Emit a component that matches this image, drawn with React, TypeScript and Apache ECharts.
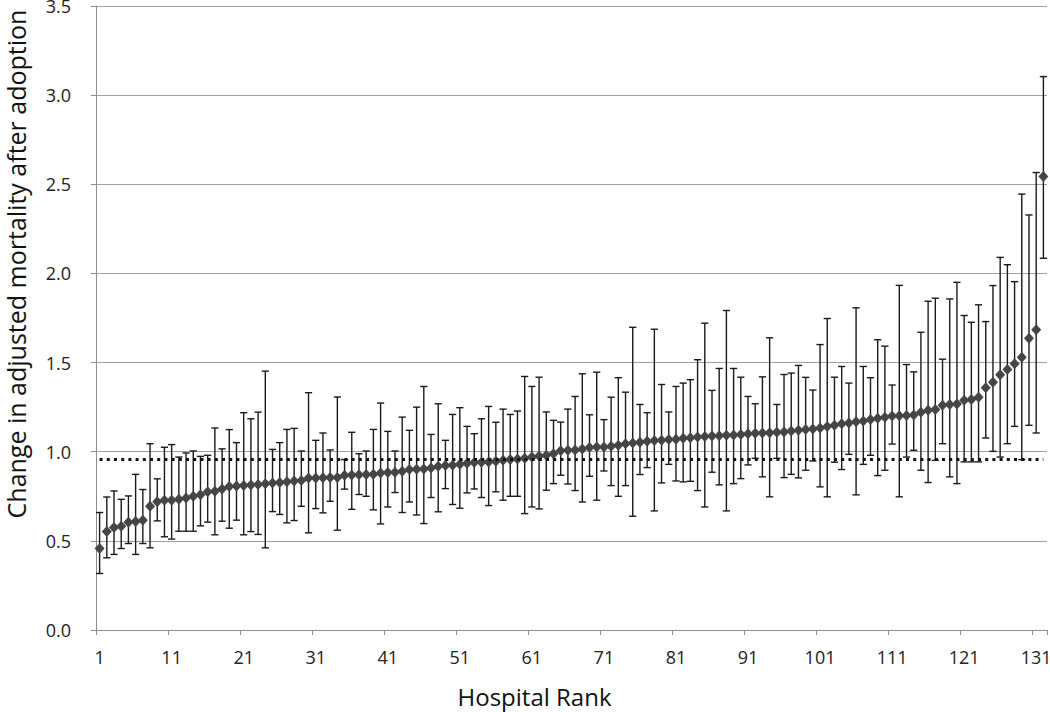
import React, { useEffect, useRef } from "react";
import * as echarts from "echarts";

const means: number[] = [
  0.457, 0.553, 0.575, 0.582, 0.605, 0.609, 0.616, 0.694, 0.720, 0.728,
  0.728, 0.733, 0.741, 0.750, 0.758, 0.776, 0.778, 0.791, 0.805, 0.808,
  0.810, 0.814, 0.816, 0.821, 0.825, 0.827, 0.831, 0.836, 0.838, 0.853,
  0.853, 0.854, 0.855, 0.856, 0.868, 0.870, 0.871, 0.872, 0.874, 0.881,
  0.883, 0.885, 0.890, 0.900, 0.901, 0.903, 0.909, 0.918, 0.922, 0.924,
  0.929, 0.935, 0.939, 0.941, 0.943, 0.946, 0.952, 0.956, 0.959, 0.963,
  0.970, 0.976, 0.980, 0.989, 1.005, 1.008, 1.010, 1.015, 1.023, 1.026,
  1.027, 1.030, 1.036, 1.045, 1.049, 1.053, 1.058, 1.063, 1.065, 1.068,
  1.070, 1.075, 1.079, 1.082, 1.086, 1.088, 1.090, 1.092, 1.094, 1.097,
  1.101, 1.103, 1.105, 1.107, 1.109, 1.110, 1.116, 1.120, 1.124, 1.127,
  1.133, 1.142, 1.148, 1.157, 1.161, 1.168, 1.172, 1.180, 1.187, 1.194,
  1.200, 1.202, 1.203, 1.206, 1.222, 1.232, 1.237, 1.260, 1.265, 1.268,
  1.288, 1.293, 1.306, 1.359, 1.390, 1.432, 1.461, 1.493, 1.530, 1.637,
  1.684, 2.544,
];

const upper: number[] = [
  0.659, 0.746, 0.780, 0.733, 0.752, 0.873, 0.788, 1.045, 0.848, 1.025,
  1.040, 0.970, 0.993, 1.004, 0.974, 0.980, 1.133, 1.016, 1.124, 1.051,
  1.219, 1.185, 1.222, 1.452, 1.013, 1.051, 1.125, 1.131, 1.004, 1.331,
  1.064, 1.105, 1.010, 1.307, 0.956, 1.109, 0.989, 1.004, 1.125, 1.273,
  1.114, 1.004, 1.194, 1.120, 1.250, 1.366, 1.097, 1.269, 1.064, 1.209,
  1.247, 1.142, 1.101, 1.185, 1.254, 1.165, 1.239, 1.209, 1.228, 1.422,
  1.366, 1.418, 1.223, 1.176, 1.166, 1.239, 1.310, 1.437, 1.207, 1.446,
  1.180, 1.306, 1.415, 1.334, 1.698, 1.265, 1.219, 1.687, 1.377, 1.223,
  1.366, 1.385, 1.404, 1.516, 1.721, 1.344, 1.467, 1.792, 1.467, 1.418,
  1.310, 1.269, 1.420, 1.639, 1.265, 1.433, 1.441, 1.484, 1.417, 1.346,
  1.601, 1.747, 1.418, 1.478, 1.385, 1.807, 1.478, 1.415, 1.628, 1.592,
  1.374, 1.933, 1.489, 1.448, 1.670, 1.844, 1.861, 1.519, 1.857, 1.950,
  1.764, 1.726, 1.824, 1.730, 1.932, 2.090, 2.049, 1.954, 2.445, 2.328,
  2.566, 3.104,
];

const lower: number[] = [
  0.317, 0.405, 0.424, 0.457, 0.485, 0.424, 0.485, 0.461, 0.612, 0.523,
  0.510, 0.554, 0.554, 0.554, 0.584, 0.605, 0.534, 0.610, 0.571, 0.616,
  0.534, 0.552, 0.536, 0.461, 0.664, 0.648, 0.601, 0.614, 0.694, 0.545,
  0.681, 0.657, 0.722, 0.560, 0.790, 0.677, 0.760, 0.750, 0.674, 0.595,
  0.690, 0.771, 0.659, 0.718, 0.645, 0.597, 0.743, 0.663, 0.793, 0.704,
  0.683, 0.769, 0.791, 0.743, 0.698, 0.775, 0.728, 0.750, 0.750, 0.653,
  0.690, 0.679, 0.784, 0.821, 0.868, 0.819, 0.782, 0.718, 0.862, 0.728,
  0.892, 0.810, 0.750, 0.810, 0.638, 0.872, 0.911, 0.668, 0.825, 0.929,
  0.836, 0.831, 0.834, 0.782, 0.690, 0.885, 0.814, 0.668, 0.821, 0.849,
  0.926, 0.963, 0.859, 0.747, 0.963, 0.855, 0.873, 0.853, 0.896, 0.948,
  0.803, 0.747, 0.941, 0.900, 0.985, 0.758, 0.929, 0.980, 0.866, 0.896,
  1.043, 0.747, 0.970, 1.008, 0.896, 0.827, 0.952, 1.045, 0.859, 0.821,
  0.943, 0.943, 0.943, 1.077, 1.002, 0.970, 1.045, 1.142, 0.956, 1.148,
  1.105, 2.085,
];

const referenceValue = 0.96;

const categories: string[] = means.map((_, i) => String(i + 1));

const FONT = "'Open Sans', 'Noto Sans', sans-serif";

export default function App() {
  const ref = useRef<HTMLDivElement>(null);

  useEffect(() => {
    if (!ref.current) return;
    const chart = echarts.init(ref.current, null, { renderer: "svg" });
    const errData = means.map((_, i) => [i, lower[i], upper[i]]);

    chart.setOption({
      animation: false,
      backgroundColor: "#ffffff",
      grid: {
        left: 96,
        right: 3,
        top: 6,
        bottom: 82,
        containLabel: false,
        outerBoundsMode: "none",
      },
      xAxis: {
        type: "category",
        data: categories,
        boundaryGap: true,
        axisLine: { show: true, lineStyle: { color: "#8c8c8c", width: 1 } },
        axisTick: { show: true, interval: 9, length: 5, lineStyle: { color: "#8c8c8c" } },
        axisLabel: { interval: 9, margin: 18, fontFamily: FONT, fontSize: 18, color: "#222" },
        splitLine: { show: false },
        name: "Hospital Rank",
        nameLocation: "middle",
        nameGap: 54,
        nameTextStyle: { fontFamily: FONT, fontSize: 24, color: "#111", padding: [0, 74, 0, 0] },
      },
      yAxis: {
        type: "value",
        min: 0,
        max: 3.5,
        interval: 0.5,
        axisLine: { show: true, lineStyle: { color: "#8c8c8c", width: 1 } },
        axisTick: { show: true, length: 5, lineStyle: { color: "#8c8c8c" } },
        axisLabel: {
          margin: 25,
          fontFamily: FONT,
          fontSize: 18,
          color: "#222",
          formatter: (v: number) => v.toFixed(1),
        },
        splitLine: { show: true, lineStyle: { color: "#a0a0a0", width: 1 } },
        name: "Change in adjusted mortality after adoption",
        nameLocation: "middle",
        nameGap: 68,
        nameRotate: 90,
        nameTextStyle: { fontFamily: FONT, fontSize: 25, color: "#111", padding: [0, 0, 0, 108] },
      },
      series: [
        {
          type: "custom",
          name: "CI",
          data: errData,
          encode: { x: 0, y: [1, 2] },
          z: 2,
          renderItem: (params: any, api: any) => {
            const x = api.value(0);
            const pLo = api.coord([x, api.value(1)]);
            const pHi = api.coord([x, api.value(2)]);
            const half = 3.6;
            const style = { stroke: "#1a1a1a", lineWidth: 1.4, fill: null };
            return {
              type: "group",
              children: [
                { type: "line", shape: { x1: pHi[0], y1: pHi[1], x2: pLo[0], y2: pLo[1] }, style },
                { type: "line", shape: { x1: pHi[0] - half, y1: pHi[1], x2: pHi[0] + half, y2: pHi[1] }, style },
                { type: "line", shape: { x1: pLo[0] - half, y1: pLo[1], x2: pLo[0] + half, y2: pLo[1] }, style },
              ],
            };
          },
        },
        {
          type: "scatter",
          name: "Change",
          data: means,
          symbol: "diamond",
          symbolSize: [10, 11],
          itemStyle: { color: "#454545", opacity: 1 },
          z: 4,
          markLine: {
            silent: true,
            symbol: "none",
            label: { show: false },
            lineStyle: { type: [3, 4.2], width: 3, color: "#111", opacity: 1 },
            data: [
              [
                { coord: [categories[0], referenceValue] },
                { coord: [categories[categories.length - 1], referenceValue] },
              ],
            ],
          },
        },
      ],
    });
    return () => chart.dispose();
  }, []);

  return (
    <div
      ref={ref}
      style={{ position: "absolute", left: 0, top: 0, width: 1050, height: 712, background: "#fff" }}
    />
  );
}
